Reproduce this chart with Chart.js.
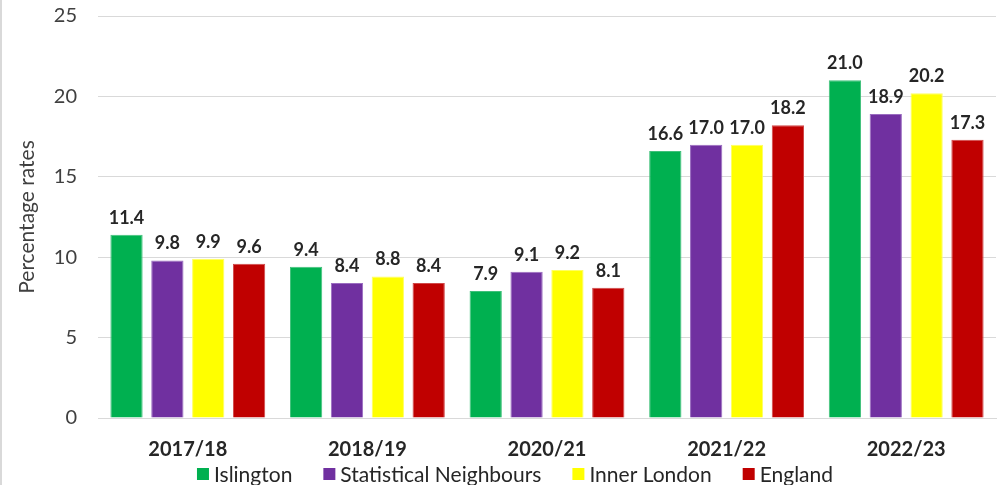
<!DOCTYPE html>
<html>
<head>
<meta charset="utf-8">
<script src="https://cdn.jsdelivr.net/npm/chart.js@4.4.1/dist/chart.umd.min.js"></script>
<style>
    html, body { margin: 0; padding: 0; background: #fff; }
    #wrap { position: relative; width: 1000px; height: 485px; border-left: 2px solid #d9d9d9; }
</style>
</head>
<body>
<div id="wrap"><canvas id="rates-chart"></canvas></div>
<script>
const years = ['2017/18', '2018/19', '2020/21', '2021/22', '2022/23'];
const islington = [11.4, 9.4, 7.9, 16.6, 21.0];
const statNeighbours = [9.8, 8.4, 9.1, 17.0, 18.9];
const innerLondon = [9.9, 8.8, 9.2, 17.0, 20.2];
const england = [9.6, 8.4, 8.1, 18.2, 17.3];
const yTicks = [0, 5, 10, 15, 20, 25];

const FONT = 'Lato, "Open Sans", sans-serif';

// value labels on top of each bar
const barValues = {
    id: 'barValues',
    afterDatasetsDraw(chart) {
        const ctx = chart.ctx;
        ctx.save();
        ctx.font = 'bold 18px ' + FONT;
        ctx.fillStyle = '#262626';
        ctx.textAlign = 'center';
        ctx.textBaseline = 'alphabetic';
        chart.data.datasets.forEach((ds, i) => {
            chart.getDatasetMeta(i).data.forEach((bar, j) => {
                ctx.fillText(ds.data[j].toFixed(1), bar.x, bar.y - 11);
            });
        });
        ctx.restore();
    }
};

// legend row under the axis labels, squares + names
const bottomLegend = {
    id: 'bottomLegend',
    afterDraw(chart) {
        const ctx = chart.ctx;
        const box = 12, textGap = 5, itemGap = 31;
        const centerX = 513, centerY = 474;
        ctx.save();
        ctx.font = '21px ' + FONT;
        ctx.textBaseline = 'middle';
        ctx.textAlign = 'left';
        const items = chart.data.datasets.map(ds => ({
            text: ds.label,
            color: ds.backgroundColor,
            w: box + textGap + ctx.measureText(ds.label).width
        }));
        const total = items.reduce((s, it) => s + it.w, 0) + itemGap * (items.length - 1);
        let x = centerX - total / 2;
        items.forEach(it => {
            ctx.fillStyle = it.color;
            ctx.fillRect(x, centerY - box / 2, box, box);
            ctx.fillStyle = '#262626';
            ctx.fillText(it.text, x + box + textGap, centerY + 1);
            x += it.w + itemGap;
        });
        ctx.restore();
    }
};

function series(label, data, color, border) {
    return {
        label: label,
        data: data,
        backgroundColor: color,
        borderColor: border,
        borderWidth: 1,
        categoryPercentage: 0.91,
        barPercentage: 0.79
    };
}

var rates_chart = document.getElementById('rates-chart').getContext('2d');
var myChart = new Chart(rates_chart, {
    type: 'bar',
    data: {
        labels: years,
        datasets: [
            series('Islington', islington, '#00b050', '#3fc07a'),
            series('Statistical Neighbours', statNeighbours, '#7030a0', '#9a6cc0'),
            series('Inner London', innerLondon, '#ffff00', '#ffff60'),
            series('England', england, '#c00000', '#d04848')
        ]
    },
    options: {
        responsive: true,
        maintainAspectRatio: false,
        animation: false,
        layout: {
            padding: { top: 16, right: 6, bottom: 25, left: 0 }
        },
        plugins: {
            title: { display: false },
            tooltip: { enabled: false },
            legend: { display: false }
        },
        scales: {
            x: {
                grid: { display: false },
                border: { color: '#d9d9d9', width: 1 },
                ticks: {
                    padding: 12,
                    color: '#262626',
                    font: { family: FONT, size: 20, weight: 'bold' }
                },
                afterFit(scale) { scale.height = 42; }
            },
            y: {
                min: 0,
                max: 25,
                afterBuildTicks(scale) { scale.ticks = yTicks.map(v => ({ value: v })); },
                grid: { color: '#d9d9d9', drawTicks: false },
                border: { display: false },
                ticks: {
                    padding: 21,
                    color: '#404040',
                    font: { family: FONT, size: 20 }
                },
                title: {
                    display: true,
                    text: 'Percentage rates',
                    color: '#404040',
                    padding: { top: 13, bottom: 0 },
                    font: { family: FONT, size: 21 }
                },
                afterFit(scale) {
                    scale.width = 96;
                    scale.paddingTop = 0;
                    scale.paddingBottom = 0;
                }
            }
        }
    },
    plugins: [barValues, bottomLegend]
});
</script>
</body>
</html>
